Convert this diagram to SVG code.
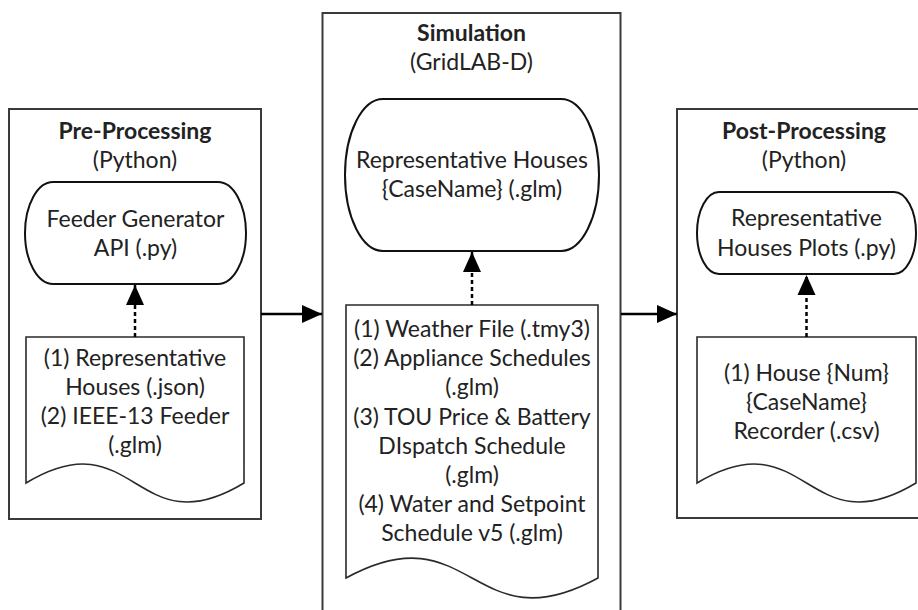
<svg xmlns="http://www.w3.org/2000/svg" width="918" height="610" viewBox="0 0 918 610">
  <style>
    .stage { fill: #ffffff; stroke: #3a3a3a; stroke-width: 2; }
    .term { fill: #ffffff; stroke: #111111; stroke-width: 2; }
    .doc { fill: #ffffff; stroke: #2a2a2a; stroke-width: 1.6; }
    text { font-family: Lato, "Open Sans", "Liberation Sans", sans-serif; font-size: 23px; fill: #222222; text-anchor: middle; }
    .title { font-weight: bold; }
    .flow { stroke: #000000; stroke-width: 2.5; fill: none; }
    .dep { stroke: #000000; stroke-width: 2.5; fill: none; stroke-dasharray: 4 3; }
  </style>
  <defs>
    <marker id="head" viewBox="0 0 20 20" markerWidth="20" markerHeight="20" refX="20" refY="10" orient="auto" markerUnits="userSpaceOnUse">
      <path d="M0,1 L20,10 L0,19 Z" fill="#000000"/>
    </marker>
  </defs>

  <rect width="918" height="610" fill="#ffffff"/>

  <!-- Stage 1: pre-processing -->
  <g id="pre-processing">
    <rect class="stage" x="9" y="109" width="252" height="410"/>
    <text class="title" x="135" y="139">Pre-Processing</text>
    <text x="135" y="168">(Python)</text>
  </g>
  <g id="feeder-generator">
    <rect class="term" x="25" y="182" width="221" height="102" rx="28" ry="51"/>
    <text x="135.5" y="227">Feeder Generator</text>
    <text x="135.5" y="256">API (.py)</text>
  </g>
  <g id="pre-inputs">
    <path class="doc" d="M26,483 V337 H244 V483 C135,549 135,417 26,483 Z"/>
    <text x="135" y="366">(1) Representative</text>
    <text x="135" y="395">Houses (.json)</text>
    <text x="135" y="424">(2) IEEE-13 Feeder</text>
    <text x="135" y="453">(.glm)</text>
  </g>

  <!-- Stage 2: simulation -->
  <g id="simulation">
    <rect class="stage" x="322.5" y="13" width="298" height="620"/>
    <text class="title" x="471.5" y="41">Simulation</text>
    <text x="471.5" y="70">(GridLAB-D)</text>
  </g>
  <g id="representative-houses">
    <rect class="term" x="345" y="99" width="254" height="152" rx="38" ry="76"/>
    <text x="472" y="168">Representative Houses</text>
    <text x="472" y="197">{CaseName} (.glm)</text>
  </g>
  <g id="simulation-inputs">
    <path class="doc" d="M346,578 V305 H598 V578 C472,647 472,509 346,578 Z"/>
    <text x="472" y="337">(1) Weather File (.tmy3)</text>
    <text x="472" y="366">(2) Appliance Schedules</text>
    <text x="472" y="395">(.glm)</text>
    <text x="472" y="425">(3) TOU Price &amp; Battery</text>
    <text x="472" y="454">DIspatch Schedule</text>
    <text x="472" y="483">(.glm)</text>
    <text x="472" y="512">(4) Water and Setpoint</text>
    <text x="472" y="541">Schedule v5 (.glm)</text>
  </g>

  <!-- Stage 3: post-processing -->
  <g id="post-processing">
    <rect class="stage" x="677" y="109" width="254" height="409"/>
    <text class="title" x="804" y="139">Post-Processing</text>
    <text x="804" y="168">(Python)</text>
  </g>
  <g id="house-plots">
    <rect class="term" x="697" y="192" width="219" height="82" rx="22" ry="41"/>
    <text x="806.5" y="226">Representative</text>
    <text x="806.5" y="256">Houses Plots (.py)</text>
  </g>
  <g id="recorder-output">
    <path class="doc" d="M697,483 V337 H916 V483 C806.5,549 806.5,417 697,483 Z"/>
    <text x="806.5" y="381">(1) House {Num}</text>
    <text x="806.5" y="410">{CaseName}</text>
    <text x="806.5" y="439">Recorder (.csv)</text>
  </g>

  <!-- Connectors -->
  <g id="connectors">
    <line class="flow" x1="261" y1="314" x2="322" y2="314" marker-end="url(#head)"/>
    <line class="flow" x1="621" y1="314" x2="677" y2="314" marker-end="url(#head)"/>
    <line class="dep" x1="135" y1="337" x2="135" y2="285" marker-end="url(#head)"/>
    <line class="dep" x1="472" y1="305" x2="472" y2="252" marker-end="url(#head)"/>
    <line class="dep" x1="806.5" y1="337" x2="806.5" y2="275" marker-end="url(#head)"/>
  </g>
</svg>
